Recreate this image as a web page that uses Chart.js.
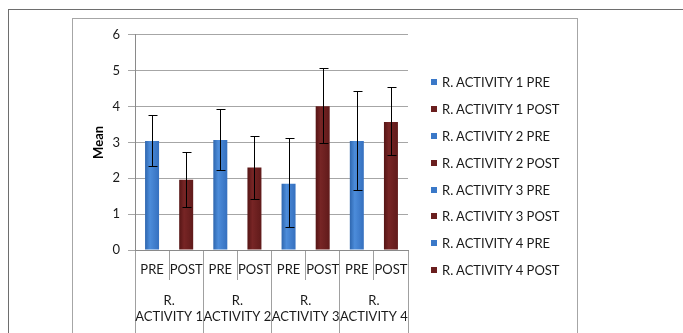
<!DOCTYPE html>
<html><head><meta charset="utf-8">
<script src="https://cdn.jsdelivr.net/npm/chart.js@4/dist/chart.umd.min.js"></script>
<style>
html,body{margin:0;padding:0;background:#fff;width:683px;height:333px;overflow:hidden;font-family:Lato,"Liberation Sans",sans-serif}
#outer{position:absolute;left:8px;top:9px;width:700px;height:340px;border-top:1px solid #6e6e6e;border-left:1px solid #6e6e6e}
#inner{position:absolute;left:72px;top:18px;width:504px;height:330px;border:1px solid #a6a6a6;border-bottom:none}
#c{position:absolute;left:73px;top:19px}
#legend{position:absolute;left:431px;top:69px}
.item{height:26.8px;display:flex;align-items:center;font-size:13px;color:#1a1a1a;white-space:nowrap}
.sw{width:6px;height:6px;margin-right:5px}
</style>
</head><body>
<div id="outer"></div>
<div id="inner"></div>
<canvas id="c" width="504" height="314"></canvas>
<div id="legend"></div>
<script>
// ---- data ----
const categories = ['PRE', 'POST', 'PRE', 'POST', 'PRE', 'POST', 'PRE', 'POST'];
const groupLabels = [['R.', 'ACTIVITY 1'], ['R.', 'ACTIVITY 2'], ['R.', 'ACTIVITY 3'], ['R.', 'ACTIVITY 4']];
const seriesNames = ['R. ACTIVITY 1 PRE', 'R. ACTIVITY 1 POST', 'R. ACTIVITY 2 PRE', 'R. ACTIVITY 2 POST',
                     'R. ACTIVITY 3 PRE', 'R. ACTIVITY 3 POST', 'R. ACTIVITY 4 PRE', 'R. ACTIVITY 4 POST'];
const means   = [3.04, 1.96, 3.07, 2.30, 1.85, 4.01, 3.04, 3.57];
const errHigh = [3.75, 2.72, 3.94, 3.19, 3.13, 5.07, 4.44, 4.54];
const errLow  = [2.34, 1.20, 2.22, 1.41, 0.63, 2.98, 1.67, 2.66];
const yAxisTitle = 'Mean';

// ---- styles ----
const BLUE = {edge: '#2e66ae', light: '#4c8cda', mid: '#3a78c8', right: '#3570bf'};
const RED  = {edge: '#551515', light: '#772525', mid: '#6a1e1e', right: '#601a1a'};
const seriesStyle = seriesNames.map(n => n.endsWith('PRE') ? BLUE : RED);
const BAR_PCT = 0.41;
const FONT = 'Lato, "Liberation Sans", sans-serif';

function barFill(ctx, i) {
  const chart = ctx.chart;
  const st = seriesStyle[i];
  const xs = chart.scales && chart.scales.x;
  if (!xs || !xs.width) return st.mid;
  const cx = xs.getPixelForValue(i);
  const w = xs.width / categories.length * BAR_PCT;
  const g = chart.ctx.createLinearGradient(cx - w / 2, 0, cx + w / 2, 0);
  g.addColorStop(0, st.edge);
  g.addColorStop(0.35, st.light);
  g.addColorStop(1, st.right);
  return g;
}

const datasets = seriesNames.map((name, i) => ({
  label: name,
  data: categories.map((_, j) => j === i ? means[i] : null),
  backgroundColor: (ctx) => barFill(ctx, i),
  borderWidth: 0,
  categoryPercentage: 1,
  barPercentage: BAR_PCT,
  skipNull: true,
  xAxisID: 'x'
}));

const errorBars = {
  id: 'errorBars',
  afterDatasetsDraw(chart) {
    const ys = chart.scales.y;
    const c = chart.ctx;
    c.save();
    c.strokeStyle = '#000';
    c.lineWidth = 1;
    chart.data.datasets.forEach((ds, i) => {
      const el = chart.getDatasetMeta(i).data[i];
      if (!el) return;
      const x = Math.round(el.x) + 0.5;
      const yh = Math.round(ys.getPixelForValue(errHigh[i])) + 0.5;
      const yl = Math.round(ys.getPixelForValue(errLow[i])) + 0.5;
      c.beginPath();
      c.moveTo(x, yh); c.lineTo(x, yl);
      c.moveTo(x - 4, yh); c.lineTo(x + 5, yh);
      c.moveTo(x - 4, yl); c.lineTo(x + 5, yl);
      c.stroke();
    });
    c.restore();
  }
};

const chart = new Chart(document.getElementById('c'), {
  type: 'bar',
  data: {labels: categories, datasets},
  options: {
    responsive: false,
    devicePixelRatio: 1,
    animation: false,
    layout: {padding: {top: 15, right: 169, bottom: 0, left: 0}},
    plugins: {legend: {display: false}, tooltip: {enabled: false}},
    scales: {
      x: {
        type: 'category',
        position: 'bottom',
        weight: 0,
        offset: true,
        grid: {display: true, offset: true, drawOnChartArea: false, drawTicks: true, tickLength: 30, color: '#a0a0a0'},
        border: {display: true, color: '#8a8a8a'},
        ticks: {padding: -18, color: '#1a1a1a', font: {family: FONT, size: 13}, maxRotation: 0, autoSkip: false},
        afterFit(s) { s.height = 30; }
      },
      x2: {
        type: 'category',
        position: 'bottom',
        weight: 1,
        labels: groupLabels,
        offset: true,
        grid: {display: true, offset: true, drawOnChartArea: false, drawTicks: true, tickLength: 60, color: '#a0a0a0'},
        border: {display: false},
        ticks: {padding: -47, color: '#1a1a1a', font: {family: FONT, size: 13, lineHeight: 1.23}, maxRotation: 0, autoSkip: false},
        afterFit(s) { s.height = 53; }
      },
      y: {
        min: 0, max: 6,
        ticks: {stepSize: 1, padding: 8, color: '#1a1a1a', font: {family: FONT, size: 13}},
        grid: {color: '#a6a6a6', tickLength: 7},
        border: {display: true, color: '#8a8a8a'},
        title: {display: true, text: yAxisTitle, color: '#000', font: {family: FONT, size: 13, weight: 'bold'}, padding: {top: 18, bottom: 0}},
        afterFit(s) { s.width = 62; }
      }
    }
  },
  plugins: [errorBars]
});

// legend built from the chart's datasets
const lg = document.getElementById('legend');
chart.data.datasets.forEach((ds, i) => {
  const row = document.createElement('div');
  row.className = 'item';
  const sw = document.createElement('span');
  sw.className = 'sw';
  sw.style.background = seriesStyle[i].mid;
  const tx = document.createElement('span');
  tx.textContent = ds.label;
  row.appendChild(sw); row.appendChild(tx);
  lg.appendChild(row);
});
</script>
</body></html>
